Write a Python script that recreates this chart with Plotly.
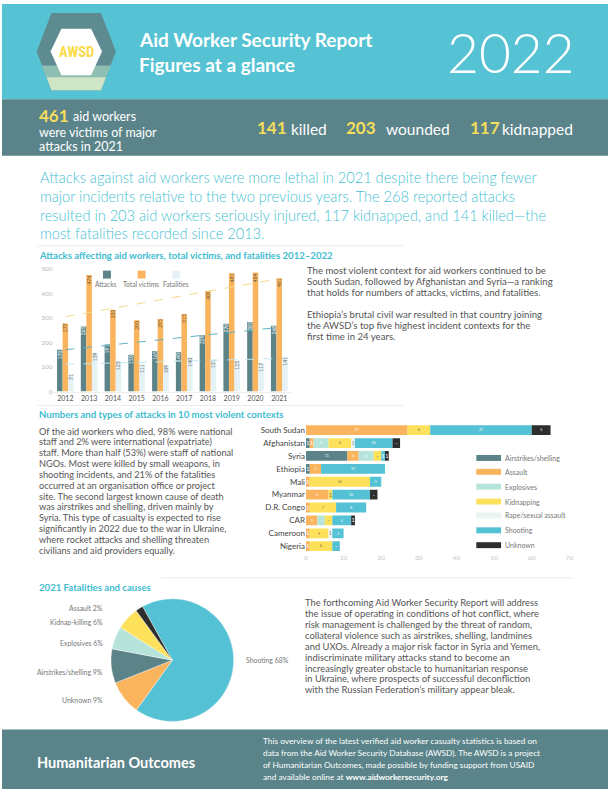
import numpy as np
import plotly.graph_objects as go

W, H = 612, 792
def px(x): return x / W
def py(y): return 1 - y / H

FONT = "Lato, 'Noto Sans', sans-serif"
CYAN = "#56c3d4"
DARK = "#5a8489"
TEAL = "#5b8388"
ORANGE = "#fbb45e"
MINT = "#b6e4da"
YELLOW = "#fde15a"
RAPE = "#eaf5f3"
SHOOT = "#55c1d5"
UNKNOWN = "#2e2e2e"
FATAL = "#e4f2f6"
TXT = "#555555"
TITLE = "#3fbcd0"

# ---------------- data ----------------
years = [2012, 2013, 2014, 2015, 2016, 2017, 2018, 2019, 2020, 2021]
attacks = [170, 265, 191, 150, 165, 160, 229, 276, 283, 268]
victims = [277, 474, 333, 290, 295, 315, 409, 481, 484, 461]
fatalities = [71, 159, 123, 111, 109, 140, 131, 125, 117, 141]

countries = ["South Sudan", "Afghanistan", "Syria", "Ethiopia", "Mali",
             "Myanmar", "D.R. Congo", "CAR", "Cameroon", "Nigeria"]
airstrikes = [0, 1, 11, 1, 0, 0, 0, 0, 0, 0]
assault = [27, 1, 3, 3, 1, 6, 1, 3, 1, 1]
explosives = [0, 4, 4, 0, 0, 0, 0, 2, 0, 0]
kidnapping = [6, 6, 2, 0, 16, 1, 7, 2, 5, 6]
rape = [0, 1, 0, 0, 0, 0, 0, 0, 1, 0]
shooting = [27, 10, 1, 17, 3, 10, 8, 5, 3, 2]
unknown = [5, 2, 1, 0, 0, 2, 0, 1, 0, 0]

cause_names = ["Airstrikes/shelling", "Assault", "Explosives", "Kidnapping",
               "Rape/sexual assault", "Shooting", "Unknown"]

pie_labels = ["Shooting", "Unknown", "Airstrikes/shelling", "Explosives",
              "Kidnap-killing", "Assault"]
pie_values = [68, 9, 9, 6, 6, 2]

stat_total, stat_killed, stat_wounded, stat_kidnapped = 461, 141, 203, 117

fig = go.Figure()

# ---------------- top chart: grouped bars ----------------
series = [("Attacks", attacks, TEAL, "white"),
          ("Total victims", victims, ORANGE, "#6d5a3a"),
          ("Fatalities", fatalities, FATAL, "#666666")]
for name, vals, col, tcol in series:
    fig.add_trace(go.Bar(
        x=years, y=vals, name=name, marker=dict(color=col, line=dict(width=0)),
        text=[str(v) for v in vals], textposition="inside", insidetextanchor="end",
        textangle=-90, textfont=dict(size=5.5, color=tcol, family=FONT),
        xaxis="x", yaxis="y", showlegend=False, hoverinfo="skip"))

idx = np.arange(len(years))
trend_cols = {"Attacks": "#5fb3c4", "Total victims": "#f3d98c", "Fatalities": "#bfe5ee"}
for name, vals, col, tcol in series:
    k, b = np.polyfit(idx, vals, 1)
    fig.add_trace(go.Scatter(
        x=[years[0], years[-1]], y=[b, b + k * idx[-1]], mode="lines",
        line=dict(color=trend_cols[name], width=1, dash="dash"),
        xaxis="x", yaxis="y", showlegend=False, hoverinfo="skip"))

# ---------------- horizontal stacked bars ----------------
cause_vals = [airstrikes, assault, explosives, kidnapping, rape, shooting, unknown]
cause_cols = [TEAL, ORANGE, MINT, YELLOW, RAPE, SHOOT, UNKNOWN]
cause_tcols = ["white", "white", "white", "#6b6b4a", "#888888", "white", "white"]
base = np.zeros(len(countries))
for name, vals, col, tcol in zip(cause_names, cause_vals, cause_cols, cause_tcols):
    fig.add_trace(go.Bar(
        y=countries, x=vals, base=base.tolist(), orientation="h", name=name,
        offsetgroup="h", width=0.76,
        marker=dict(color=col, line=dict(width=0)),
        text=[str(v) if v else "" for v in vals], textposition="inside",
        insidetextanchor="middle", textangle=0,
        textfont=dict(size=5.5, color=tcol, family=FONT),
        xaxis="x2", yaxis="y2", showlegend=False, hoverinfo="skip"))
    base = base + np.array(vals)

# ---------------- pie ----------------
pie_cols = [SHOOT, ORANGE, TEAL, MINT, YELLOW, UNKNOWN]
fig.add_trace(go.Pie(
    labels=pie_labels, values=pie_values, sort=False, direction="clockwise",
    rotation=-29, marker=dict(colors=pie_cols, line=dict(color="white", width=0.4)),
    textinfo="none", hoverinfo="skip", showlegend=False,
    domain=dict(x=[px(110), px(234)], y=[py(724), py(600)])))

# ---------------- shapes ----------------
shapes = []
def rect(x0, y0, x1, y1, color, layer="below", line_w=0):
    shapes.append(dict(type="rect", xref="paper", yref="paper",
                       x0=px(x0), x1=px(x1), y0=py(y1), y1=py(y0),
                       fillcolor=color, line=dict(width=line_w), layer=layer))
def hline(x0, x1, y, color="#e6e6e6", w=0.8):
    shapes.append(dict(type="line", xref="paper", yref="paper",
                       x0=px(x0), x1=px(x1), y0=py(y), y1=py(y),
                       line=dict(color=color, width=w), layer="below"))
def poly(pts, color, layer="above"):
    d = "M " + " L ".join(f"{px(a):.5f} {py(b):.5f}" for a, b in pts) + " Z"
    shapes.append(dict(type="path", xref="paper", yref="paper", path=d,
                       fillcolor=color, line=dict(width=0), layer=layer))

rect(0, 0, 612, 96, CYAN)
rect(0, 96, 612, 153, DARK)
rect(0, 732, 612, 792, DARK)
hline(36, 405, 244)
hline(36, 405, 405)
hline(160, 577, 579)

# logo
poly([(50, 9), (100, 9), (115, 48), (100, 87), (50, 87), (35, 48)], "#5e8b90")
poly([(40, 62), (110, 62), (100, 87), (50, 87)], "#8fbfb3")
poly([(45, 74), (105, 74), (100, 87), (50, 87)], "#cfe6c6")
poly([(60, 25), (90, 25), (101, 48), (90, 72), (60, 72), (49, 48)], "white")

# legend squares top chart
for (x0, col) in [(102, TEAL), (137, ORANGE), (172, FATAL)]:
    rect(x0, 269, x0 + 8, 277, col, layer="above")
# legend bars for cause chart
leg_y = [458, 472, 487, 502, 516, 531, 546]
for yv, col in zip(leg_y, cause_cols):
    rect(479, yv - 3, 504, yv + 3, col, layer="above")

# ---------------- annotations ----------------
ann = []
def txt(x, y, s, size, color=TXT, anchor="left", weight="normal", family=FONT):
    ann.append(dict(x=px(x), y=py(y), xref="paper", yref="paper", text=s,
                    showarrow=False, xanchor=anchor, yanchor="middle",
                    font=dict(size=size, color=color, family=family, weight=weight),
                    align=anchor if anchor != "center" else "center"))
def lines(x, y0, dy, ls, size, color=TXT, weight="normal"):
    for i, s in enumerate(ls):
        if s:
            txt(x, y0 + i * dy, s, size, color, weight=weight)

# header
txt(75, 49, "AWSD", 14.5, "#f9dc4a", "center", weight="bold",
    family="'Roboto Condensed', 'Liberation Sans Narrow', Roboto, sans-serif")
txt(136, 36, "Aid Worker Security Report", 19, "white", weight="bold")
txt(136, 61, "Figures at a glance", 19, "white", weight="bold")
txt(447, 48, "2022", 55, "white", weight=300)

# stats band
Y = "#f5de5b"
txt(35, 112, f"{stat_total}", 17, Y, weight="bold")
txt(70, 114, "aid workers", 12.5, "white")
txt(35, 130, "were victims of major", 12.5, "white")
txt(35, 144, "attacks in 2021", 12.5, "white")
for xn, xw, num, word in [(256, 290, stat_killed, "killed"),
                          (345, 386, stat_wounded, "wounded"),
                          (471, 503, stat_kidnapped, "kidnapped")]:
    txt(xn, 125, f"{num}", 17, Y, weight="bold")
    txt(xw, 126, word, 15.5, "white")

# intro
lines(36, 175, 19, [
    "Attacks against aid workers were more lethal in 2021 despite there being fewer",
    "major incidents relative to the two previous years. The 268 reported attacks",
    "resulted in 203 aid workers seriously injured, 117 kidnapped, and 141 killed\u2014the",
    "most fatalities recorded since 2013."], 14.6, "#45bfd2", weight=300)

# section titles
txt(35, 254, "Attacks affecting aid workers, total victims, and fatalities 2012\u20132022", 9.6, TITLE, weight="bold")
txt(35, 414, "Numbers and types of attacks in 10 most violent contexts", 9.6, TITLE, weight="bold")
txt(35, 589, "2021 Fatalities and causes", 9.6, TITLE, weight="bold")

# top chart legend text
for cx, s in [(105, "Attacks"), (140, "Total victims"), (176, "Fatalities")]:
    txt(cx, 282, s, 6.6, "#777777", "center")

# right text 1
lines(306, 269, 11, [
    "The most violent context for aid workers continued to be",
    "South Sudan, followed by Afghanistan and Syria\u2014a ranking",
    "that holds for numbers of attacks, victims, and fatalities.",
    "",
    "Ethiopia\u2019s brutal civil war resulted in that country joining",
    "the AWSD\u2019s top five highest incident contexts for the",
    "first time in 24 years."], 9.6, TXT)

# left text 2
lines(35, 431, 10.9, [
    "Of the aid workers who died, 98% were national",
    "staff and 2% were international (expatriate)",
    "staff. More than half (53%) were staff of national",
    "NGOs. Most were killed by small weapons, in",
    "shooting incidents, and 21% of the fatalities",
    "occurred at an organisation office or project",
    "site. The second largest known cause of death",
    "was airstrikes and shelling, driven mainly by",
    "Syria. This type of casualty is expected to rise",
    "significantly in 2022 due to the war in Ukraine,",
    "where rocket attacks and shelling threaten",
    "civilians and aid providers equally."], 9.2, TXT)

# cause legend labels
for yv, s in zip(leg_y, cause_names):
    txt(506, yv, s, 7, "#777777")

# pie labels
pie_pos = {"Assault": (104, 609, "right"), "Kidnap-killing": (104, 624, "right"),
           "Explosives": (104, 645, "right"), "Airstrikes/shelling": (104, 674, "right"),
           "Unknown": (104, 702, "right"), "Shooting": (244, 662, "left")}
for lab, val in zip(pie_labels, pie_values):
    x, y, a = pie_pos[lab]
    txt(x, y, f"{lab} {val}%", 6.9, "#777777", a)

# right text 3
lines(304, 604, 11, [
    "The forthcoming Aid Worker Security Report will address",
    "the issue of operating in conditions of hot conflict, where",
    "risk management is challenged by the threat of random,",
    "collateral violence such as airstrikes, shelling, landmines",
    "and UXOs. Already a major risk factor in Syria and Yemen,",
    "indiscriminate military attacks stand to become an",
    "increasingly greater obstacle to humanitarian response",
    "in Ukraine, where prospects of successful deconfliction",
    "with the Russian Federation\u2019s military appear bleak."], 9.4, TXT)

# footer
txt(33, 765, "Humanitarian Outcomes", 14.5, "white", weight="bold")
lines(262, 744, 12, [
    "This overview of the latest verified aid worker casualty statistics is based on",
    "data from the Aid Worker Security Database (AWSD). The AWSD is a project",
    "of Humanitarian Outcomes, made possible by funding support from USAID",
    "and available online at <b>www.aidworkersecurity.org</b>"], 8.3, "white")

fig.update_layout(
    width=W, height=H, autosize=False,
    margin=dict(l=0, r=0, t=0, b=0),
    paper_bgcolor="white", plot_bgcolor="white",
    barmode="group", bargap=0.3, bargroupgap=0,
    showlegend=False, shapes=shapes, annotations=ann,
    font=dict(family=FONT, color=TXT),
    xaxis=dict(domain=[px(52), px(292)], range=[2011.5, 2021.5], anchor="y",
               tickvals=years, ticktext=[str(y) for y in years],
               tickfont=dict(size=7, color="#555555"), showgrid=False,
               zeroline=False, showline=True, linecolor="#eeeeee", ticks=""),
    yaxis=dict(domain=[py(391), py(267)], range=[0, 500], anchor="x",
               tickvals=[0, 100, 200, 300, 400, 500],
               tickfont=dict(size=6.5, color="#bbbbbb"), showgrid=False,
               zeroline=False, ticks=""),
    xaxis2=dict(domain=[px(307), px(573)], range=[0, 70], anchor="y2", dtick=10,
                tickfont=dict(size=6.5, color="#c5c5c5"), showgrid=False,
                zeroline=False, ticks=""),
    yaxis2=dict(domain=[py(553.5), py(423.5)], anchor="x2", autorange="reversed",
                type="category", tickfont=dict(size=8, color="#444444"),
                showgrid=False, zeroline=False, ticks=""),
)

fig.write_html("out.html", config={"displayModeBar": False},
               post_script="document.body.style.margin='0';document.body.style.overflow='hidden';")
